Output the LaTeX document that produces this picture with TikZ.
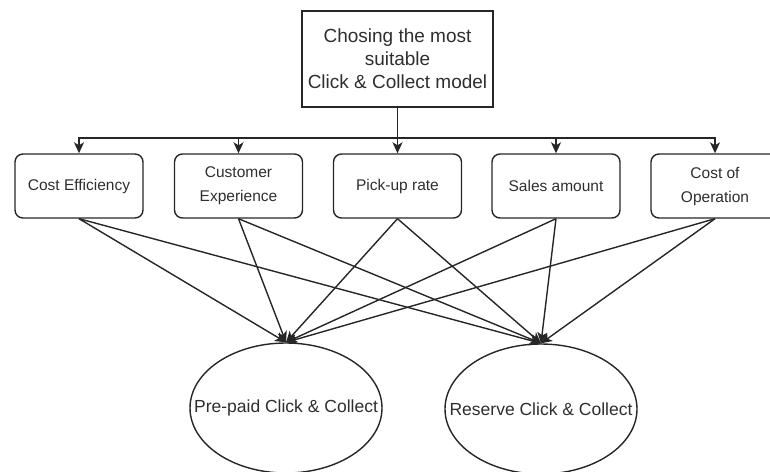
\documentclass[tikz,border=0pt]{standalone}
\usepackage{fontspec}
\setmainfont{Liberation Sans}
\usetikzlibrary{arrows.meta,shapes.geometric}
\begin{document}
\begin{tikzpicture}[x=1pt,y=-1pt,
  ink/.style={draw=black!85, line width=1.4pt},
  arr/.style={ink, -{Stealth[length=11pt,width=10pt,inset=3pt]}},
  goal/.style={ink, rectangle, minimum width=191pt, minimum height=96pt,
    inner sep=0pt, align=center, text=black!82,
    font=\fontsize{19}{23}\selectfont},
  crit/.style={ink, rectangle, rounded corners=8pt, minimum width=128pt,
    minimum height=64pt, inner sep=0pt, align=center, text=black!82,
    font=\fontsize{15.5}{24}\selectfont},
  model/.style={ink, ellipse, minimum width=192pt, minimum height=130pt,
    inner sep=0pt, text=black!82, font=\fontsize{17.5}{21}\selectfont}]

\useasboundingbox (0,0) rectangle (770,471);

% goal
\node[goal] (goal) at (397.5,59) {Chosing the most\\suitable\\Click \& Collect model};

% criteria
\node[crit] (ce) at (79,186)    {Cost Efficiency};
\node[crit] (cx) at (238.5,186) {Customer\\Experience};
\node[crit] (pr) at (397.5,186) {Pick-up rate};
\node[crit] (sa) at (556,186)   {Sales amount};
\node[crit] (co) at (715,186)   {Cost of\\Operation};

% alternatives
\node[model] (pp) at (286,408) {\makebox[0pt]{Pre-paid Click \& Collect}};
\node[model] (rc) at (541,409) {\makebox[0pt]{Reserve Click \& Collect}};

% goal to criteria
\coordinate (bus) at (397.5,138);
\draw[arr] (goal.south) -- (pr.north);
\foreach \c in {ce,cx,sa,co}
  \draw[arr] (goal.south) -- (bus) -| (\c.north);

% criteria to alternatives
\foreach \c in {ce,cx,pr,sa,co}{
  \draw[arr] (\c.south) -- (pp.north);
  \draw[arr] (\c.south) -- (rc.north);
}
\end{tikzpicture}
\end{document}
